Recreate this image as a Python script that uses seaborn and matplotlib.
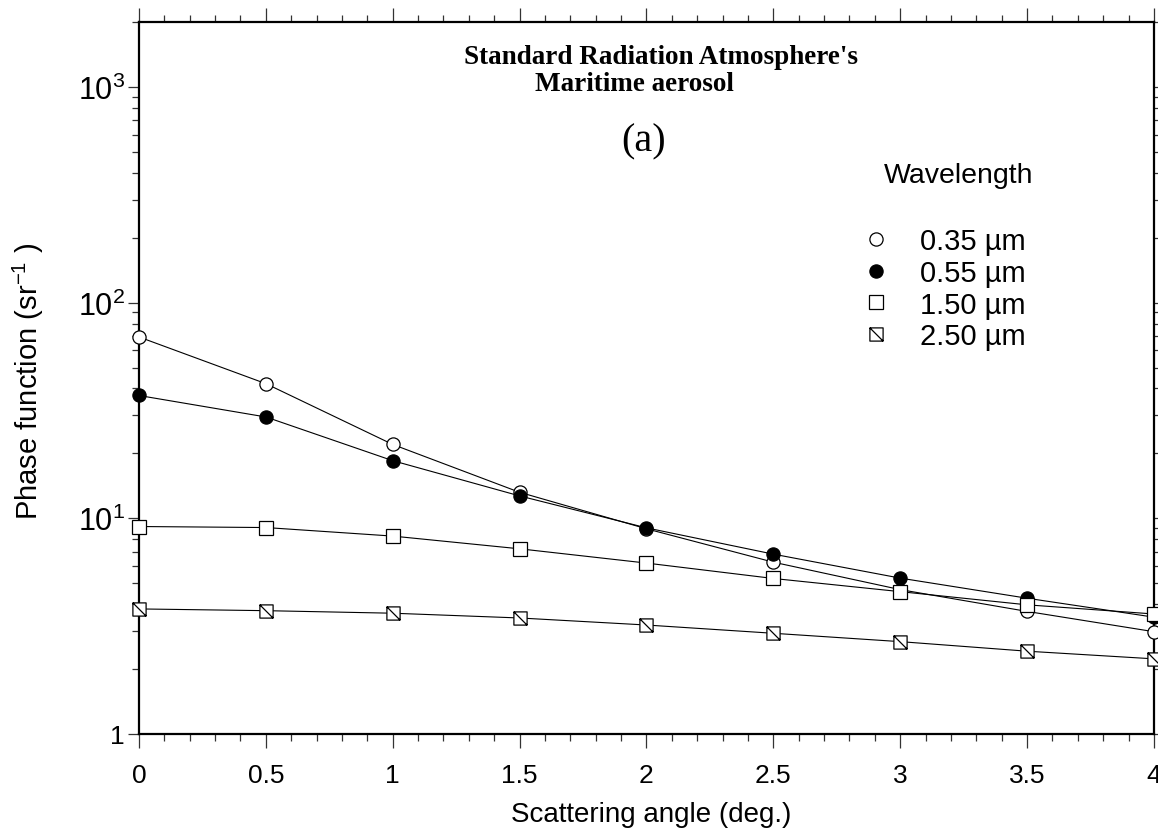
import numpy as np
import pandas as pd
import matplotlib
matplotlib.use("Agg")
import matplotlib.pyplot as plt
import seaborn as sns
from matplotlib.path import Path
from matplotlib.lines import Line2D
from matplotlib.ticker import FixedLocator, LogLocator, NullFormatter, FixedFormatter

# ---------------- data ----------------
angles = [0, 0.5, 1, 1.5, 2, 2.5, 3, 3.5, 4]
p035 = [69.3, 42.1, 22.0, 13.2, 8.94, 6.26, 4.67, 3.70, 2.98]
p055 = [37.1, 29.5, 18.5, 12.7, 9.03, 6.82, 5.28, 4.26, 3.48]
p150 = [9.16, 9.06, 8.27, 7.22, 6.20, 5.26, 4.57, 3.97, 3.60]
p250 = [3.80, 3.73, 3.63, 3.45, 3.20, 2.93, 2.68, 2.42, 2.23]
labels = ["0.35 \u00b5m", "0.55 \u00b5m", "1.50 \u00b5m", "2.50 \u00b5m"]
xtick_vals = [0, 0.5, 1, 1.5, 2, 2.5, 3, 3.5, 4]
xtick_labels = ["0", "0.5", "1", "1.5", "2", "2.5", "3", "3.5", "4"]
ytick_vals = [1, 10, 100, 1000]
ytick_labels = ["1", "$10^1$", "$10^2$", "$10^3$"]

sns.set_style("white")
plt.rcParams["font.family"] = ["Liberation Sans", "DejaVu Sans"]
plt.rcParams["mathtext.fontset"] = "custom"
plt.rcParams["mathtext.rm"] = "Liberation Sans"
plt.rcParams["mathtext.it"] = "Liberation Sans:italic"
plt.rcParams["mathtext.bf"] = "Liberation Sans:bold"
for k in ["text.color", "axes.labelcolor", "xtick.color", "ytick.color"]:
    plt.rcParams[k] = "black"

# hatched square marker
hsq = Path([(-1, -1), (1, -1), (1, 1), (-1, 1), (-1, -1), (-1, 1), (1, -1)],
           [Path.MOVETO, Path.LINETO, Path.LINETO, Path.LINETO, Path.CLOSEPOLY,
            Path.MOVETO, Path.LINETO])

styles = [
    dict(marker="o", mfc="white"),
    dict(marker="o", mfc="black"),
    dict(marker="s", mfc="white"),
    dict(marker=hsq, mfc="white"),
]
series = [p035, p055, p150, p250]

fig = plt.figure(figsize=(11.58, 8.37), dpi=100)
ax = fig.add_axes([0.12, 0.1219, 0.8765, 0.8506])

ms = 9.5
for vals, st in zip(series, styles):
    df = pd.DataFrame({"x": angles, "y": vals})
    sns.lineplot(data=df, x="x", y="y", ax=ax, color="black", lw=0.8,
                 marker=st["marker"], markersize=ms,
                 markerfacecolor=st["mfc"], markeredgecolor="black",
                 markeredgewidth=0.9, clip_on=False, zorder=3)

ax.set_yscale("log")
ax.set_xlim(0, 4)
ax.set_ylim(1, 2000)

ax.xaxis.set_major_locator(FixedLocator(xtick_vals))
ax.xaxis.set_major_formatter(FixedFormatter(xtick_labels))
ax.xaxis.set_minor_locator(FixedLocator(np.round(np.arange(0, 4.0001, 0.1), 2)))
ax.yaxis.set_major_locator(FixedLocator(ytick_vals))
ax.yaxis.set_major_formatter(FixedFormatter(ytick_labels))
ax.yaxis.set_minor_locator(LogLocator(base=10, subs=np.arange(2, 10)))
ax.yaxis.set_minor_formatter(NullFormatter())

for s in ax.spines.values():
    s.set_linewidth(1.6)
    s.set_color("black")

ax.tick_params(axis="both", which="both", direction="out", top=True, right=True,
               bottom=True, left=True, color="#333333")
ax.tick_params(axis="x", which="major", length=10, width=0.9, labelsize=19, pad=11)
ax.tick_params(axis="x", which="minor", length=5, width=0.9)
ax.tick_params(axis="y", which="major", length=8, width=0.9, labelsize=22, pad=2)
ax.tick_params(axis="y", which="minor", length=5, width=0.9)
fig.canvas.draw()
for lab in ax.get_yticklabels():
    if lab.get_text() == "1":
        lab.set_fontsize(19)

ax.set_xlabel("Scattering angle (deg.)", fontsize=20)
ax.set_ylabel("Phase function (sr$^{-1}$ )", fontsize=21)
ax.xaxis.set_label_coords(0.505, -0.094)
ax.yaxis.set_label_coords(-0.092, 0.497)

# titles
serif = ["Liberation Serif", "DejaVu Serif"]
ax.text(0.5143, 0.952, "Standard Radiation Atmosphere's", transform=ax.transAxes,
        ha="center", va="center", fontsize=19.5, fontweight="bold", family=serif)
ax.text(0.4877, 0.914, "Maritime aerosol", transform=ax.transAxes,
        ha="center", va="center", fontsize=19.5, fontweight="bold", family=serif)
ax.text(0.4975, 0.833, "(a)", transform=ax.transAxes, ha="center", va="center",
        fontsize=29, family=serif)

ax.text(0.808, 0.785, "Wavelength", transform=ax.transAxes, ha="center",
        va="center", fontsize=20.5)

handles = [Line2D([], [], linestyle="none", marker=st["marker"], markersize=ms,
                  markerfacecolor=st["mfc"], markeredgecolor="black",
                  markeredgewidth=0.9) for st in styles]
ax.legend(handles, labels, loc="upper left", bbox_to_anchor=(0.7117, 0.712),
          frameon=False, fontsize=21, handlelength=1.0, handletextpad=1.0,
          borderpad=0, borderaxespad=0, labelspacing=0.13)

fig.savefig("out.png", dpi=100)
